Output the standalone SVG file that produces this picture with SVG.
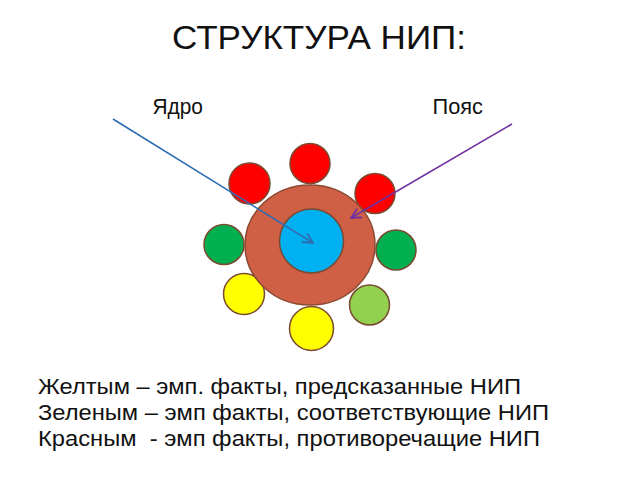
<svg xmlns="http://www.w3.org/2000/svg" width="640" height="480" viewBox="0 0 640 480">
<defs>
<style>
text{font-family:"Liberation Sans",Arial,sans-serif;fill:#111;white-space:pre}
.sat{stroke:#7a4a30;stroke-width:1.5}
.red{fill:#ff0000}.grn{fill:#00b050}.yel{fill:#ffff00}.lgr{fill:#92d050}
.line{fill:none;stroke-width:1.6}
</style>
<marker id="ab" viewBox="0 0 12 12" refX="11" refY="6" markerWidth="12" markerHeight="12" markerUnits="userSpaceOnUse" orient="auto"><path d="M1,1 L11,6 L1,11" fill="none" stroke="#2e6db4" stroke-width="1.8"/></marker>
<marker id="ap" viewBox="0 0 12 12" refX="11" refY="6" markerWidth="12" markerHeight="12" markerUnits="userSpaceOnUse" orient="auto"><path d="M1,1 L11,6 L1,11" fill="none" stroke="#7030a0" stroke-width="1.8"/></marker>
</defs>
<rect width="640" height="480" fill="#fff"/>
<text x="172" y="49" font-size="33" textLength="294" lengthAdjust="spacingAndGlyphs">СТРУКТУРА НИП:</text>
<text x="152.5" y="114" font-size="21.5" textLength="50.5" lengthAdjust="spacingAndGlyphs">Ядро</text>
<text x="432.5" y="114" font-size="21.5" textLength="50.5" lengthAdjust="spacingAndGlyphs">Пояс</text>
<g id="sat-red-left"><circle class="sat red" cx="249.5" cy="183.5" r="20.5"/></g>
<g id="sat-red-top"><circle class="sat red" cx="310" cy="163.5" r="20"/></g>
<g id="sat-red-right"><circle class="sat red" cx="375" cy="193.5" r="20"/></g>
<g id="sat-green-left"><circle class="sat grn" cx="224" cy="244.5" r="20"/></g>
<g id="sat-green-right"><circle class="sat grn" cx="396" cy="250" r="20"/></g>
<g id="sat-yellow-left"><circle class="sat yel" cx="244" cy="294" r="20.5"/></g>
<g id="sat-yellow-bottom"><circle class="sat yel" cx="311.5" cy="328.5" r="22"/></g>
<g id="sat-lightgreen"><circle class="sat lgr" cx="369.5" cy="305" r="20"/></g>
<g id="belt"><ellipse cx="310" cy="245" rx="65" ry="60" fill="#cf5f45" stroke="#8a4a32" stroke-width="1.5"/></g>
<g id="core"><circle cx="311.5" cy="241" r="32" fill="#00b0f0" stroke="#7a4a30" stroke-width="1.5"/></g>
<g id="connectors">
<line class="line" x1="113" y1="119" x2="313" y2="243" stroke="#2e6db4" marker-end="url(#ab)"/>
<line class="line" x1="512" y1="124" x2="351" y2="218" stroke="#7030a0" marker-end="url(#ap)"/>
</g>
<text x="38" y="394" font-size="22" textLength="483" lengthAdjust="spacingAndGlyphs">Желтым – эмп. факты, предсказанные НИП</text>
<text x="38" y="420" font-size="22" textLength="511" lengthAdjust="spacingAndGlyphs">Зеленым – эмп факты, соответствующие НИП</text>
<text x="38" y="446" font-size="22" textLength="502" lengthAdjust="spacingAndGlyphs">Красным  - эмп факты, противоречащие НИП</text>
</svg>
